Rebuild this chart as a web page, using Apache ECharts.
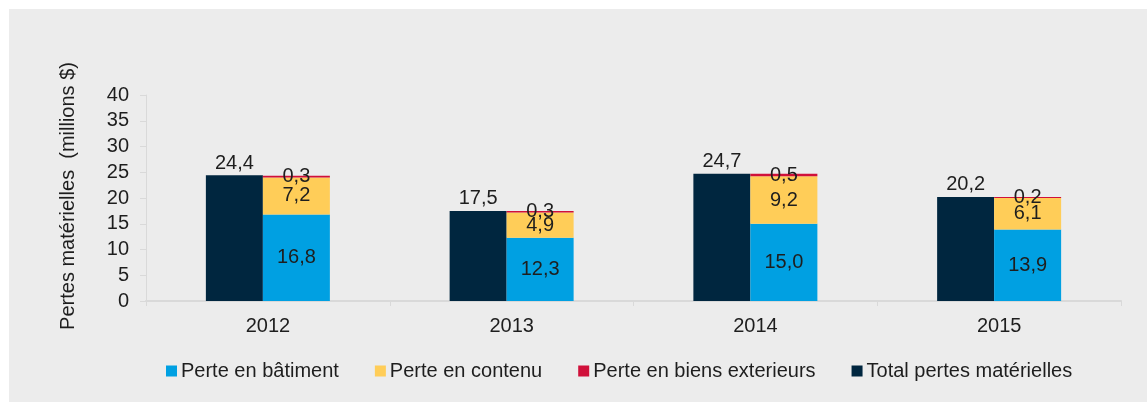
<!DOCTYPE html>
<html>
<head>
<meta charset="utf-8">
<script src="https://cdn.jsdelivr.net/npm/echarts@6/dist/echarts.min.js"></script>
<style>
  html, body { margin: 0; padding: 0; background: #ffffff; }
  .echarts {
    position: absolute;
    left: 9px;
    top: 9px;
    width: 1138px;
    height: 393px;
    background: #ececec;
  }
</style>
</head>
<body>
<div id="chart" class="echarts"></div>
<script>
// données (millions $)
var years = ['2012', '2013', '2014', '2015'];
var perteBatiment = [16.8, 12.3, 15.0, 13.9];
var perteContenu = [7.2, 4.9, 9.2, 6.1];
var perteExterieurs = [0.3, 0.3, 0.5, 0.2];
var totalPertes = [24.4, 17.5, 24.7, 20.2];
var yTicks = [0, 5, 10, 15, 20, 25, 30, 35, 40];

var textColor = '#1e1e1e';
var font = '"Liberation Sans", Arial, sans-serif';

// virgule comme séparateur décimal
var fmt = function (p) {
  return Number(p.value).toFixed(1).replace('.', ',');
};

var myChart = echarts.init(document.getElementById('chart'));

var option = {
  animation: false,
  textStyle: { fontFamily: font, color: textColor },
  grid: {
    left: 137,
    right: 26,
    top: 86,
    bottom: 101
  },
  legend: {
    left: 152,
    top: 347,
    itemWidth: 11,
    itemHeight: 11,
    itemGap: 36,
    icon: 'rect',
    data: ['Perte en bâtiment', 'Perte en contenu', 'Perte en biens exterieurs', 'Total pertes matérielles'],
    textStyle: { fontSize: 20, color: textColor, fontFamily: font, padding: [0, 0, 0, -1] }
  },
  xAxis: {
    type: 'category',
    data: years,
    axisLine: { lineStyle: { color: '#d9d9d9', width: 2 } },
    axisTick: { show: true, length: 5, lineStyle: { color: '#d9d9d9' } },
    axisLabel: { fontSize: 20, color: textColor, margin: 15 }
  },
  yAxis: {
    type: 'value',
    min: yTicks[0],
    max: yTicks[yTicks.length - 1],
    interval: yTicks[1] - yTicks[0],
    name: 'Pertes matérielles  (millions $)',
    nameLocation: 'middle',
    nameGap: 68,
    nameTextStyle: { fontSize: 20, color: textColor, padding: [0, 0, 0, 4] },
    splitLine: { show: false },
    axisLine: { show: true, lineStyle: { color: '#d9d9d9' } },
    axisTick: { show: true, length: 6, lineStyle: { color: '#d9d9d9' } },
    axisLabel: { fontSize: 20, color: textColor, margin: 17 }
  },
  series: [
    {
      name: 'Total pertes matérielles',
      type: 'bar',
      data: totalPertes,
      barWidth: 57,
      barGap: 0,
      itemStyle: { color: '#00263f' },
      label: { show: true, position: 'top', distance: 2, fontSize: 20, color: textColor, formatter: fmt }
    },
    {
      name: 'Perte en bâtiment',
      type: 'bar',
      stack: 'pertes',
      data: perteBatiment,
      barWidth: 67,
      barGap: 0,
      itemStyle: { color: '#00a0e2' },
      label: { show: true, position: 'inside', fontSize: 20, color: textColor, formatter: fmt }
    },
    {
      name: 'Perte en contenu',
      type: 'bar',
      stack: 'pertes',
      data: perteContenu,
      barWidth: 67,
      barGap: 0,
      itemStyle: { color: '#ffcd58' },
      label: { show: true, position: 'inside', fontSize: 20, color: textColor, formatter: fmt }
    },
    {
      name: 'Perte en biens exterieurs',
      type: 'bar',
      stack: 'pertes',
      data: perteExterieurs,
      barWidth: 67,
      barGap: 0,
      itemStyle: { color: '#d0103a' },
      label: { show: true, position: 'inside', fontSize: 20, color: textColor, formatter: fmt }
    }
  ]
};

myChart.setOption(option);
</script>
</body>
</html>
